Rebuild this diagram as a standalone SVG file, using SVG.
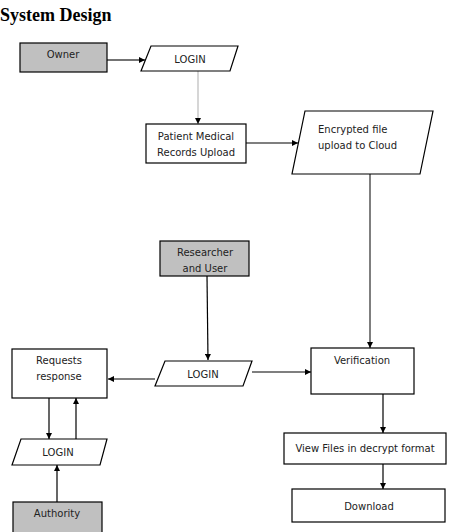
<svg xmlns="http://www.w3.org/2000/svg" width="476" height="532" viewBox="0 0 476 532">
<defs>
<marker id="ah" viewBox="0 0 10 10" refX="10" refY="5" markerWidth="6" markerHeight="6" orient="auto" markerUnits="userSpaceOnUse">
<path d="M0,0 L10,5 L0,10 z" fill="#000"/>
</marker>
</defs>
<style>
.box{fill:#fff;stroke:#000;stroke-width:1.2}
.gray{fill:#c0c0c0;stroke:#000;stroke-width:1.2}
.t{font-family:"DejaVu Sans",Verdana,sans-serif;font-size:10px;fill:#222;text-anchor:middle}
.c{fill:none;stroke:#000;stroke-width:1.2}
</style>
<rect width="476" height="532" fill="#fff"/>
<text x="0" y="21" font-family="Liberation Serif,serif" font-weight="bold" font-size="18" fill="#000">System Design</text>
<g id="connectors">
<line class="c" x1="107" y1="60" x2="145" y2="60" style="stroke:#444;stroke-width:1.6" marker-end="url(#ah)"/>
<line class="c" x1="198" y1="71" x2="198" y2="124" style="stroke:#bbb" marker-end="url(#ah)"/>
<line class="c" x1="246" y1="143" x2="298" y2="143" marker-end="url(#ah)"/>
<line class="c" x1="370" y1="174" x2="370" y2="348" style="stroke:#555;stroke-width:1.5" marker-end="url(#ah)"/>
<line class="c" x1="207" y1="276" x2="208" y2="360" marker-end="url(#ah)"/>
<line class="c" x1="155" y1="379" x2="108" y2="379" marker-end="url(#ah)"/>
<line class="c" x1="252" y1="372" x2="311" y2="372" marker-end="url(#ah)"/>
<line class="c" x1="49" y1="398" x2="49" y2="439" marker-end="url(#ah)"/>
<line class="c" x1="76" y1="439" x2="76" y2="398" marker-end="url(#ah)"/>
<line class="c" x1="57" y1="502" x2="57" y2="465" marker-end="url(#ah)"/>
<line class="c" x1="383" y1="394" x2="383" y2="433" marker-end="url(#ah)"/>
<line class="c" x1="383" y1="464" x2="383" y2="489" marker-end="url(#ah)"/>
</g>
<g id="owner">
<rect class="gray" x="20" y="43" width="87" height="29"/>
<text class="t" x="63" y="58">Owner</text>
</g>
<g id="login1">
<polygon class="box" points="151,46 238,46 230,71 141,71"/>
<text class="t" x="190" y="63">LOGIN</text>
</g>
<g id="patient">
<rect class="box" x="146" y="124" width="100" height="39"/>
<text class="t" x="196" y="140">Patient Medical</text>
<text class="t" x="196" y="156">Records Upload</text>
</g>
<g id="encrypted">
<polygon class="box" points="305,111 433,111 420,174 292,174"/>
<text class="t" x="318" y="133" style="text-anchor:start">Encrypted file</text>
<text class="t" x="318" y="149" style="text-anchor:start">upload to Cloud</text>
</g>
<g id="researcher">
<rect class="gray" x="160" y="241" width="89" height="35"/>
<text class="t" x="205" y="256">Researcher</text>
<text class="t" x="205" y="272">and User</text>
</g>
<g id="login2">
<polygon class="box" points="165,361 252,361 243,386 155,386"/>
<text class="t" x="203" y="378">LOGIN</text>
</g>
<g id="requests">
<rect class="box" x="12" y="349" width="95" height="49"/>
<text class="t" x="59" y="364">Requests</text>
<text class="t" x="59" y="380">response</text>
</g>
<g id="login3">
<polygon class="box" points="21,439 107,439 100,465 12,465"/>
<text class="t" x="58" y="456">LOGIN</text>
</g>
<g id="authority">
<rect class="gray" x="13" y="502" width="89" height="35"/>
<text class="t" x="57" y="517">Authority</text>
</g>
<g id="verification">
<rect class="box" x="311" y="348" width="103" height="46"/>
<text class="t" x="362" y="364">Verification</text>
</g>
<g id="view">
<rect class="box" x="284" y="433" width="162" height="31"/>
<text class="t" x="365" y="452">View Files in decrypt format</text>
</g>
<g id="download">
<rect class="box" x="292" y="489" width="153" height="33"/>
<text class="t" x="369" y="510">Download</text>
</g>
</svg>
